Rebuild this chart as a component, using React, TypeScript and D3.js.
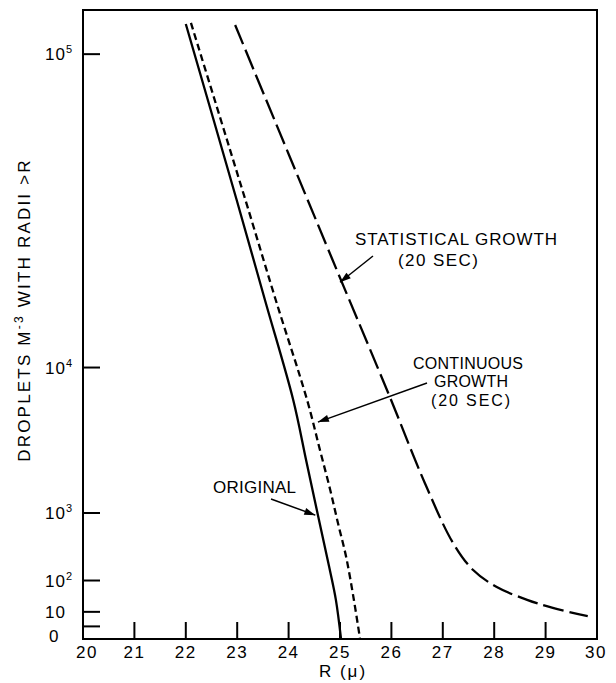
import React from 'react';
import * as d3 from 'd3';

// radius (microns) and droplet counts (per m^3)
const originalR = [22.0, 22.99, 23.54, 24.09, 24.34, 24.57, 24.79, 24.92, 25.02];
const originalN = [116300, 42300, 19470, 6825, 2870, 953, 186, 30, 0];

const continuousR = [22.1, 23.16, 23.75, 24.36, 24.61, 24.81, 24.96, 25.12, 25.27, 25.39];
const continuousN = [116900, 42300, 19470, 6825, 3375, 1655, 780, 275, 30, 0];

const statisticalR = [22.96, 24.84, 25.97, 26.65, 27.2, 27.59, 28.05, 28.64, 29.14, 29.82];
const statisticalN = [115700, 27650, 7085, 1898, 442, 164, 70, 30, 15, 6];

const xTickValues = [21, 22, 23, 24, 25, 26, 27, 28, 29];
const xTickLabels = ['20', '21', '22', '23', '24', '25', '26', '27', '28', '29', '30'];
const yTickValues = [1, 10, 100, 1000, 10000, 100000];
const yLabelValues = [0, 10, 100, 1000, 10000, 100000];
const yLabelBase = ['0', '10', '10', '10', '10', '10'];
const yLabelExp = ['', '', '2', '3', '4', '5'];

const W = 616;
const H = 683;
const font = '"Liberation Sans", Arial, sans-serif';

const toPoints = (rs: number[], ns: number[]) => rs.map((r, i) => [r, ns[i]] as [number, number]);

function arrowHead(x1: number, y1: number, x2: number, y2: number, len = 11, half = 3.5) {
  const a = Math.atan2(y2 - y1, x2 - x1);
  const bx = x2 - len * Math.cos(a);
  const by = y2 - len * Math.sin(a);
  const px = -Math.sin(a) * half;
  const py = Math.cos(a) * half;
  return `${x2},${y2} ${bx + px},${by + py} ${bx - px},${by - py}`;
}

export default function App() {
  const x = d3.scaleLinear().domain([20, 30]).range([83, 597]);
  const y = d3.scalePow().exponent(1 / 3).domain([0, 124400]).range([639, 10]);

  const line = d3.line<[number, number]>()
    .x(d => x(d[0]))
    .y(d => y(d[1]))
    .curve(d3.curveCatmullRom.alpha(0.5));

  // arrow leaders: start at the label, tip on the curves (data coords)
  const arrows = [
    { sx: 373, sy: 256, r: 25.0, n: 22700 },
    { sx: 427, sy: 383, r: 24.57, n: 5100 },
    { sx: 271, sy: 499, r: 24.52, n: 950 },
  ];

  return (
    <svg width={W} height={H} style={{ position: 'absolute', left: 0, top: 0, background: '#fff' }}
      fontFamily={font}>
      {/* frame */}
      <rect x={x(20)} y={y.range()[1]} width={x(30) - x(20)} height={y(0) - y.range()[1]}
        fill="none" stroke="#000" strokeWidth={2} />

      {/* x ticks (inward) */}
      {xTickValues.map(v => (
        <line key={'xt' + v} x1={x(v)} x2={x(v)} y1={y(0)} y2={y(0) - 17} stroke="#000" strokeWidth={2} />
      ))}
      {xTickLabels.map((t, i) => (
        <text key={'xl' + t} x={x(20 + i) + (i === 0 ? 4 : i === 10 ? -1 : 0)} y={658} fontSize={17}
          textAnchor="middle" letterSpacing={1.5}>{t}</text>
      ))}

      {/* y ticks (inward) */}
      {yTickValues.map(v => (
        <line key={'yt' + v} x1={x(20)} x2={x(20) + 17} y1={y(v)} y2={y(v)} stroke="#000" strokeWidth={2} />
      ))}
      {yLabelValues.map((v, i) => (
        <text key={'yl' + v} x={yLabelBase[i] === '0' ? 49 : 45} y={y(v) + (v === 0 ? 3 : 6)} fontSize={17}
          letterSpacing={1}>
          {yLabelBase[i]}
          {yLabelExp[i] && <tspan dy={-7} fontSize={11}>{yLabelExp[i]}</tspan>}
        </text>
      ))}

      {/* axis titles */}
      <text x={343} y={677} fontSize={17} textAnchor="middle" letterSpacing={2}>R (μ)</text>
      <text transform="translate(30,310) rotate(-90)" fontSize={17} textAnchor="middle" letterSpacing={2.2}>
        DROPLETS M<tspan dy={-7} fontSize={12}>-3</tspan><tspan dy={7}> WITH RADII &gt;R</tspan>
      </text>

      {/* curves */}
      <path d={line(toPoints(originalR, originalN)) || ''} fill="none" stroke="#000" strokeWidth={2.3} />
      <path d={line(toPoints(continuousR, continuousN)) || ''} fill="none" stroke="#000" strokeWidth={2.3}
        strokeDasharray="7,4" />
      <path d={line(toPoints(statisticalR, statisticalN)) || ''} fill="none" stroke="#000" strokeWidth={2.3}
        strokeDasharray="21,6" />

      {/* annotations */}
      {arrows.map((a, i) => {
        const tx = x(a.r);
        const ty = y(a.n);
        return (
          <g key={'ar' + i}>
            <line x1={a.sx} y1={a.sy} x2={tx} y2={ty} stroke="#000" strokeWidth={1.5} />
            <polygon points={arrowHead(a.sx, a.sy, tx, ty)} fill="#000" />
          </g>
        );
      })}
      <text x={355} y={245} fontSize={17} textLength={202} lengthAdjust="spacing">STATISTICAL  GROWTH</text>
      <text x={398} y={266} fontSize={17} textLength={80} lengthAdjust="spacing">(20 SEC)</text>
      <text x={413} y={369} fontSize={16} textLength={110} lengthAdjust="spacing">CONTINUOUS</text>
      <text x={434} y={387} fontSize={16} textLength={74} lengthAdjust="spacing">GROWTH</text>
      <text x={431} y={406} fontSize={16} textLength={79} lengthAdjust="spacing">(20 SEC)</text>
      <text x={213} y={493} fontSize={17} textLength={83} lengthAdjust="spacing">ORIGINAL</text>
    </svg>
  );
}
